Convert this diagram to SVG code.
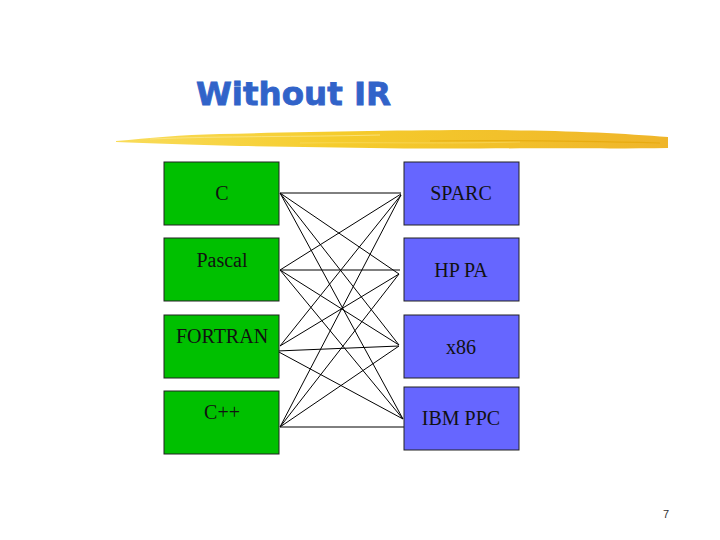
<svg xmlns="http://www.w3.org/2000/svg" width="720" height="540" viewBox="0 0 720 540">
<defs>
<linearGradient id="brush" x1="0" y1="0" x2="1" y2="0">
<stop offset="0" stop-color="#F9DC5A"/>
<stop offset="0.4" stop-color="#F5CC2C"/>
<stop offset="1" stop-color="#EFB52A"/>
</linearGradient>
<style>
.src{fill:#00C000;stroke:#222;stroke-width:1}
.dst{fill:#6666FF;stroke:#222;stroke-width:1}
.lbl{font-family:"Liberation Serif","Times New Roman",serif;font-size:20px;fill:#111;text-anchor:middle}
.ln{stroke:#000;stroke-width:1;fill:none}
</style>
</defs>
<rect width="720" height="540" fill="#fff"/>
<text x="196" y="105" font-family="'DejaVu Sans',Verdana,sans-serif" font-weight="bold" font-size="32.5" fill="#3163C9" stroke="#3163C9" stroke-width="0.8">Without IR</text>
<path d="M116,141 C150,138 180,135 220,134 C300,132 400,130 480,130 C560,130 620,133 668,137 L668,148 C620,149 560,148 480,148.5 C400,149 320,147 240,146 C190,145 150,143 116,142 Z" fill="url(#brush)"/>
<path d="M150,139 C220,136 300,137 380,135" stroke="#FBE68A" stroke-width="1" fill="none" opacity="0.8"/>
<path d="M300,143 C380,142 440,144 520,142" stroke="#FBE27A" stroke-width="0.8" fill="none" opacity="0.6"/>
<path d="M430,141 C500,140 580,141 660,143" stroke="#E2A400" stroke-width="1.2" fill="none" opacity="0.6"/>
<g id="connectors">
<line class="ln" x1="280" y1="193" x2="401" y2="193"/>
<line class="ln" x1="280" y1="193" x2="399" y2="274"/>
<line class="ln" x1="280" y1="193" x2="399" y2="345"/>
<line class="ln" x1="280" y1="193" x2="403" y2="419"/>
<line class="ln" x1="280" y1="270" x2="401" y2="194"/>
<line class="ln" x1="280" y1="270" x2="400" y2="270"/>
<line class="ln" x1="280" y1="270" x2="399" y2="345"/>
<line class="ln" x1="280" y1="270" x2="403" y2="419"/>
<line class="ln" x1="280" y1="346" x2="401" y2="195"/>
<line class="ln" x1="280" y1="346" x2="399" y2="274"/>
<line class="ln" x1="277" y1="351" x2="399" y2="346"/>
<line class="ln" x1="277" y1="351" x2="403" y2="419"/>
<line class="ln" x1="280" y1="427" x2="401" y2="195"/>
<line class="ln" x1="280" y1="427" x2="399" y2="274"/>
<line class="ln" x1="280" y1="427" x2="399" y2="346"/>
<line class="ln" x1="280" y1="427" x2="408" y2="427"/>
</g>
<g id="node-c"><rect class="src" x="164" y="162" width="115" height="63"/><text class="lbl" x="222" y="200">C</text></g>
<g id="node-pascal"><rect class="src" x="164" y="238" width="115" height="63"/><text class="lbl" x="222" y="267">Pascal</text></g>
<g id="node-fortran"><rect class="src" x="164" y="315" width="115" height="63"/><text class="lbl" x="222" y="343">FORTRAN</text></g>
<g id="node-cpp"><rect class="src" x="164" y="391" width="115" height="63"/><text class="lbl" x="222" y="419">C++</text></g>
<g id="node-sparc"><rect class="dst" x="404" y="162" width="115" height="63"/><text class="lbl" x="461" y="200">SPARC</text></g>
<g id="node-hppa"><rect class="dst" x="404" y="238" width="115" height="63"/><text class="lbl" x="461" y="277">HP PA</text></g>
<g id="node-x86"><rect class="dst" x="404" y="315" width="115" height="63"/><text class="lbl" x="461" y="354">x86</text></g>
<g id="node-ibmppc"><rect class="dst" x="404" y="387" width="115" height="63"/><text class="lbl" x="461" y="425">IBM PPC</text></g>
<text x="666" y="518" font-family="'Liberation Sans',Arial,sans-serif" font-size="11" fill="#333" text-anchor="middle">7</text>
</svg>
